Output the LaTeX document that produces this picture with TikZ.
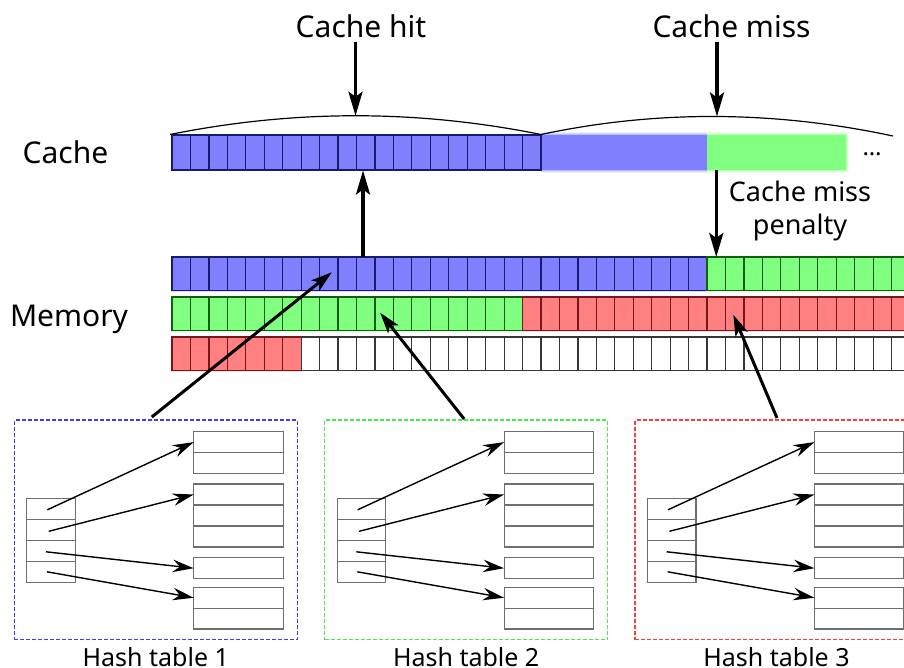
\documentclass[tikz,border=0pt]{standalone}
\usepackage{fontspec}
\setmainfont{Noto Sans}
\usetikzlibrary{arrows.meta,calc}

\definecolor{fblue}{RGB}{128,128,255}
\definecolor{fgreen}{RGB}{128,255,128}
\definecolor{fred}{RGB}{255,128,128}
\definecolor{fwhite}{RGB}{255,255,255}
\definecolor{eblue}{RGB}{25,25,110}
\definecolor{egreen}{RGB}{15,95,15}
\definecolor{ered}{RGB}{115,25,25}
\definecolor{ewhite}{RGB}{55,55,55}
\definecolor{hgray}{RGB}{110,110,110}
\definecolor{dblue}{RGB}{60,60,255}
\definecolor{dgreen}{RGB}{70,235,70}
\definecolor{dred}{RGB}{255,60,60}

\begin{document}
\begin{tikzpicture}[x=1pt,y=-1pt,
  every node/.style={inner sep=0pt, outer sep=0pt},
  cellbase/.style={minimum width=18.45pt, minimum height=33.5pt, line width=1.2pt, anchor=north west},
  memcell/.style={cellbase, fill=f#1, draw=e#1},
  cachecell/.style={cellbase, minimum height=35pt, fill=fblue, draw=eblue},
  bigarrow/.style={line width=3.2pt, -{Stealth[length=24pt, width=14pt, inset=5pt]}},
  midarrow/.style={line width=3pt, -{Stealth[length=21pt, width=13pt, inset=5pt]}},
  smallarrow/.style={line width=1.4pt, -{Stealth[length=21pt, width=12.5pt, inset=7pt]}},
  hcell/.style={draw=hgray, line width=1.1pt, minimum width=#1, minimum height=21pt, anchor=north west},
  htbox/.style={draw=#1, dash pattern=on 4pt off 2pt, line width=1.1pt, minimum width=283pt, minimum height=219.5pt, anchor=north west},
  arcline/.style={line width=1.2pt},
  biglabel/.style={font=\fontsize{30}{36}\selectfont},
  penlabel/.style={font=\fontsize{27}{33}\selectfont, align=center},
  hashlabel/.style={font=\fontsize{25}{30}\selectfont, anchor=base},
]
\useasboundingbox (0,0) rectangle (904,667);
\clip (0,0) rectangle (904,667);

% ---------- cache line ----------
\foreach \e/\o in {3/0.12,2/0.2,1/0.35}{
  \fill[fblue, opacity=\o] (541,135-\e) rectangle (707,170+\e);
  \fill[fgreen, opacity=\o] (707,135-\e) rectangle (846+\e,170+\e);
}
\node[fill=fblue, minimum width=166pt, minimum height=35pt, anchor=north west] (cblur) at (541,135) {};
\node[fill=fgreen, minimum width=139pt, minimum height=35pt, anchor=north west] (cmiss) at (707,135) {};
\fill[fblue, opacity=0.35] (171,134) rectangle (541.5,171);
\foreach \i in {0,...,19}
  \node[cachecell] (c\i) at (172+18.45*\i,135) {};
\node[font=\fontsize{24}{28}\selectfont, anchor=base] (dots) at (872,155) {…};

% braces over the cache
\draw[arcline] ($(c0.north west)+(-2,-0.5)$) .. controls +(124,-25) and +(-124,-25) .. coordinate[pos=0.5] (peak1) ($(c19.north east)+(0,-0.5)$);
\draw[arcline] ($(c19.north east)+(0,-0.5)$) .. controls +(117,-25) and +(-117,-25) .. coordinate[pos=0.5] (peak2) (893,136);

% ---------- memory rows ----------
\fill[fblue, opacity=0.3] (170.5,255.5) rectangle (707,292);
\fill[fgreen, opacity=0.3] (707,255.5) rectangle (904,292);
\fill[fgreen, opacity=0.3] (170.5,295.5) rectangle (523,332);
\fill[fred, opacity=0.3] (523,295.5) rectangle (904,332);
\fill[fred, opacity=0.3] (170.5,335.5) rectangle (302.5,372);
\foreach \r/\ytop/\split/\ca/\cb in {1/257/29/blue/green, 2/297/19/green/red, 3/337/7/red/white}{
  \foreach \i in {0,...,39}{
    \ifnum\i<\split\relax \def\cc{\ca}\else\def\cc{\cb}\fi
    \node[memcell=\cc] (m\r-\i) at (172+18.45*\i,\ytop) {};
  }
}

% ---------- labels and cache arrows ----------
\node[biglabel, anchor=base west] (lcache) at (22.7,163.3) {Cache};
\node[biglabel, anchor=base west] (lmem) at (10,326.7) {Memory};
\node[biglabel, anchor=base] (hit) at (361,37) {Cache hit};
\node[biglabel, anchor=base] (miss) at (731.5,37) {Cache miss};
\node[penlabel, anchor=north] (pen) at (800,181) {Cache miss\\penalty};

\draw[bigarrow] ($(hit.south -| peak1)+(0,5)$) -- (peak1);
\draw[bigarrow] ($(miss.south -| peak2)+(0,5)$) -- (peak2);
\draw[bigarrow] ($(m1-10.north)+(-2.7,-0.5)$) -- ($(c10.south)+(-2.7,0.5)$);
\draw[bigarrow] (cmiss.south -| m1-29.north) -- (m1-29.north);

% ---------- hash tables ----------
\foreach \k/\col in {1/dblue,2/dgreen,3/dred}{
  \pgfmathsetmacro{\L}{14.3+310.35*(\k-1)}
  \node[htbox=\col] (ht\k) at (\L,420) {};
  \foreach \j in {1,...,4}
    \node[hcell=48.6pt] (bk\k-\j) at (\L+12.4,477.3+21*\j) {};
  \foreach \j in {1,2}
    \node[hcell=89.6pt, minimum height=20.8pt] (ta\k-\j) at (\L+179.4,410.9+20.8*\j) {};
  \foreach \j in {1,2,3}
    \node[hcell=89.6pt] (tb\k-\j) at (\L+179.4,463+21*\j) {};
  \node[hcell=89.6pt] (tc\k-1) at (\L+179.4,557.7) {};
  \foreach \j in {1,2}
    \node[hcell=89.6pt, minimum height=20.85pt] (td\k-\j) at (\L+179.4,566.45+20.85*\j) {};
  \draw[smallarrow] ($(bk\k-1.center)+(-3.7,1)$) -- (ta\k-1.west);
  \draw[smallarrow] ($(bk\k-2.center)+(-2.3,1.5)$) -- (tb\k-1.west);
  \draw[smallarrow] ($(bk\k-3.center)+(-5,1)$) -- (tc\k-1.west);
  \draw[smallarrow] ($(bk\k-4.center)+(-4,0)$) -- (td\k-1.west);
  \node[hashlabel] (hl\k) at (\L+141.5,666) {Hash table \k};
}

% ---------- hash tables into memory ----------
\draw[midarrow] ($(ht1.north)+(-4,-3)$) -- ($(m1-8.center)+(3,-1.5)$);
\draw[midarrow] ($(ht2.north)+(-2,-1)$) -- ($(m2-11.center)+(-4,-1)$);
\draw[midarrow] ($(ht3.north)+(0.5,-2)$) -- ($(m2-30.center)+(-1.4,1)$);
\end{tikzpicture}
\end{document}
